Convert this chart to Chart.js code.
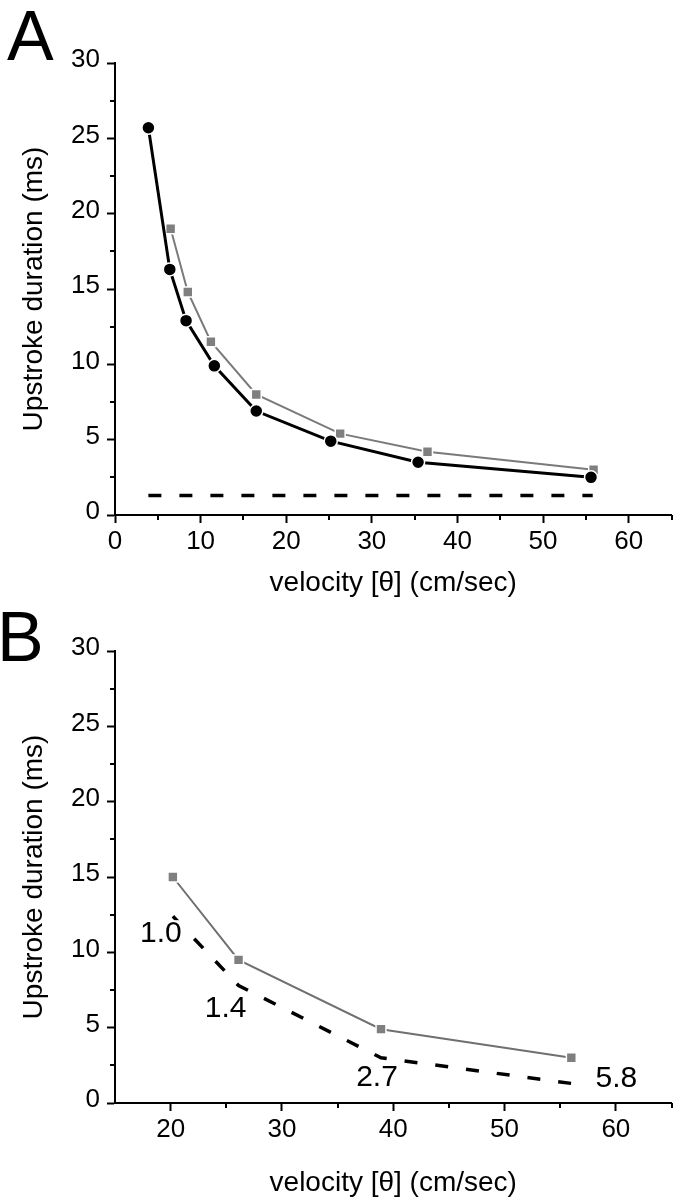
<!DOCTYPE html>
<html>
<head>
<meta charset="utf-8">
<script src="https://cdn.jsdelivr.net/npm/chart.js@4.4.0/dist/chart.umd.min.js"></script>
<style>
  body { margin: 0; background: #fff; }
  .panel { position: relative; width: 680px; height: 600px; }
</style>
</head>
<body>
<div class="panel"><canvas id="chartA"></canvas></div>
<div class="panel"><canvas id="chartB"></canvas></div>
<script>
// Panel A: measured (black circles) and second series (grey squares)
const velocityA = [3.9, 6.4, 8.3, 11.6, 16.5, 25.2, 35.4, 55.6];
const durationA = [25.7, 16.3, 12.9, 9.9, 6.9, 4.9, 3.5, 2.5];
const velocityA2 = [6.5, 8.5, 11.2, 16.5, 26.3, 36.5, 55.9];
const durationA2 = [19.0, 14.8, 11.5, 8.0, 5.4, 4.2, 3.0];
const limitVelocityA = [3.9, 55.8];
const limitDurationA = [1.3, 1.3];

// Panel B
const velocityB = [20.2, 26.1, 38.9, 56.0];
const durationB = [15.0, 9.5, 4.9, 3.0];
const predictedB = [12.4, 7.8, 3.0, 1.3];
const ratioLabelsB = ["1.0", "1.4", "2.7", "5.8"];

// axes
const yTicks = [0, 5, 10, 15, 20, 25, 30];
const yMinor = [2.5, 7.5, 12.5, 17.5, 22.5, 27.5];
const xTicksA = [0, 10, 20, 30, 40, 50, 60];
const xMinorA = [5, 15, 25, 35, 45, 55, 65];
const xTicksB = [20, 30, 40, 50, 60];
const xMinorB = [25, 35, 45, 55, 65];

const FONT = "'Liberation Sans', Arial, sans-serif";

function toPoints(xs, ys) {
  return xs.map((x, i) => ({ x: x, y: ys[i] }));
}

function minorTicks(xMinor, yMinor) {
  return {
    id: "minorTicks",
    afterDraw(chart) {
      const ctx = chart.ctx;
      const xs = chart.scales.x;
      const ys = chart.scales.y;
      ctx.save();
      ctx.strokeStyle = "#000";
      ctx.lineWidth = 2;
      ctx.beginPath();
      xMinor.forEach(function (v) {
        const px = Math.round(xs.getPixelForValue(v));
        ctx.moveTo(px, xs.top);
        ctx.lineTo(px, xs.top + 5);
      });
      yMinor.forEach(function (v) {
        const py = Math.round(ys.getPixelForValue(v));
        ctx.moveTo(ys.right, py);
        ctx.lineTo(ys.right - 5, py);
      });
      ctx.stroke();
      ctx.restore();
    },
  };
}

function panelLetter(letter, x, y) {
  return {
    id: "panelLetter",
    afterDraw(chart) {
      const ctx = chart.ctx;
      ctx.save();
      ctx.font = "70px " + FONT;
      ctx.fillStyle = "#000";
      ctx.textAlign = "left";
      ctx.textBaseline = "alphabetic";
      ctx.fillText(letter, x, y);
      ctx.restore();
    },
  };
}

// offsets (px) of the ratio labels from their dashed-line vertex
const ratioOffsets = [[-12, 17], [-13, 22], [-4, 19], [45, -6]];
const ratioLabels = {
  id: "ratioLabels",
  afterDatasetsDraw(chart) {
    const ctx = chart.ctx;
    const xs = chart.scales.x;
    const ys = chart.scales.y;
    ctx.save();
    ctx.font = "30px " + FONT;
    ctx.textAlign = "center";
    ctx.textBaseline = "middle";
    ratioLabelsB.forEach(function (t, i) {
      const px = xs.getPixelForValue(velocityB[i]) + ratioOffsets[i][0];
      const py = ys.getPixelForValue(predictedB[i]) + ratioOffsets[i][1];
      const w = ctx.measureText(t).width;
      ctx.fillStyle = "#fff";
      ctx.fillRect(px - w / 2 - 2, py - 13, w + 4, 26);
      ctx.fillStyle = "#000";
      ctx.fillText(t, px, py + 1);
    });
    ctx.restore();
  },
};

function axes(xMin, xMax, xTicks, xHeight) {
  return {
    x: {
      type: "linear",
      min: xMin,
      max: xMax,
      afterFit: function (scale) { scale.height = xHeight; },
      afterBuildTicks: function (scale) {
        scale.ticks = xTicks.map((v) => ({ value: v }));
      },
      border: { display: true, color: "#000", width: 2 },
      grid: {
        display: true,
        drawOnChartArea: false,
        drawTicks: true,
        tickLength: 8,
        tickWidth: 2,
        tickColor: "#000",
      },
      ticks: {
        color: "#000",
        font: { family: FONT, size: 26 },
        padding: 3,
        maxRotation: 0,
        autoSkip: false,
      },
      title: {
        display: true,
        text: "velocity [θ] (cm/sec)",
        color: "#000",
        font: { family: FONT, size: 28 },
        padding: 0,
      },
    },
    y: {
      type: "linear",
      min: 0,
      max: 30,
      afterFit: function (scale) { scale.width = 98; },
      afterBuildTicks: function (scale) {
        scale.ticks = yTicks.map((v) => ({ value: v }));
      },
      border: { display: true, color: "#000", width: 2 },
      grid: {
        display: true,
        drawOnChartArea: false,
        drawTicks: true,
        tickLength: 8,
        tickWidth: 2,
        tickColor: "#000",
      },
      ticks: {
        color: "#000",
        font: { family: FONT, size: 26 },
        padding: 7,
        labelOffset: -3,
      },
      title: {
        display: true,
        text: "Upstroke duration (ms)",
        color: "#000",
        font: { family: FONT, size: 28 },
        padding: 0,
      },
    },
  };
}

const common = {
  responsive: true,
  maintainAspectRatio: false,
  animation: false,
  plugins: { legend: { display: false }, tooltip: { enabled: false } },
};

// Design panel A
new Chart(document.getElementById("chartA"), {
  type: "line",
  data: {
    datasets: [
      {
        data: toPoints(velocityA, durationA),
        borderColor: "#000",
        borderWidth: 3,
        pointStyle: "circle",
        pointRadius: 6.5,
        pointBackgroundColor: "#000",
        pointBorderColor: "#fff",
        pointBorderWidth: 1.5,
        tension: 0,
      },
      {
        data: toPoints(velocityA2, durationA2),
        borderColor: "#7a7a7a",
        borderWidth: 2,
        pointStyle: "rect",
        pointRadius: 7,
        pointBackgroundColor: "#7f7f7f",
        pointBorderColor: "#fff",
        pointBorderWidth: 1.5,
        tension: 0,
      },
      {
        data: toPoints(limitVelocityA, limitDurationA),
        borderColor: "#000",
        borderWidth: 3.5,
        borderDash: [13, 18],
        pointRadius: 0,
      },
    ],
  },
  options: Object.assign({}, common, {
    layout: { padding: { left: 17, top: 63, right: 4, bottom: 0 } },
    scales: axes(0, 65, xTicksA, 85),
  }),
  plugins: [minorTicks(xMinorA, yMinor), panelLetter("A", 7, 60)],
});

// Design panel B
new Chart(document.getElementById("chartB"), {
  type: "line",
  data: {
    datasets: [
      {
        data: toPoints(velocityB, durationB),
        borderColor: "#707070",
        borderWidth: 2,
        pointStyle: "rect",
        pointRadius: 7,
        pointBackgroundColor: "#7f7f7f",
        pointBorderColor: "#fff",
        pointBorderWidth: 1.5,
        tension: 0,
      },
      {
        data: toPoints(velocityB, predictedB),
        borderColor: "#000",
        borderWidth: 3.5,
        borderDash: [13, 18],
        pointRadius: 0,
        tension: 0,
      },
    ],
  },
  options: Object.assign({}, common, {
    layout: { padding: { left: 17, top: 51, right: 6, bottom: 0 } },
    scales: axes(15, 65, xTicksB, 97),
  }),
  plugins: [minorTicks(xMinorB, yMinor), panelLetter("B", -3, 61), ratioLabels],
});
</script>
</body>
</html>
